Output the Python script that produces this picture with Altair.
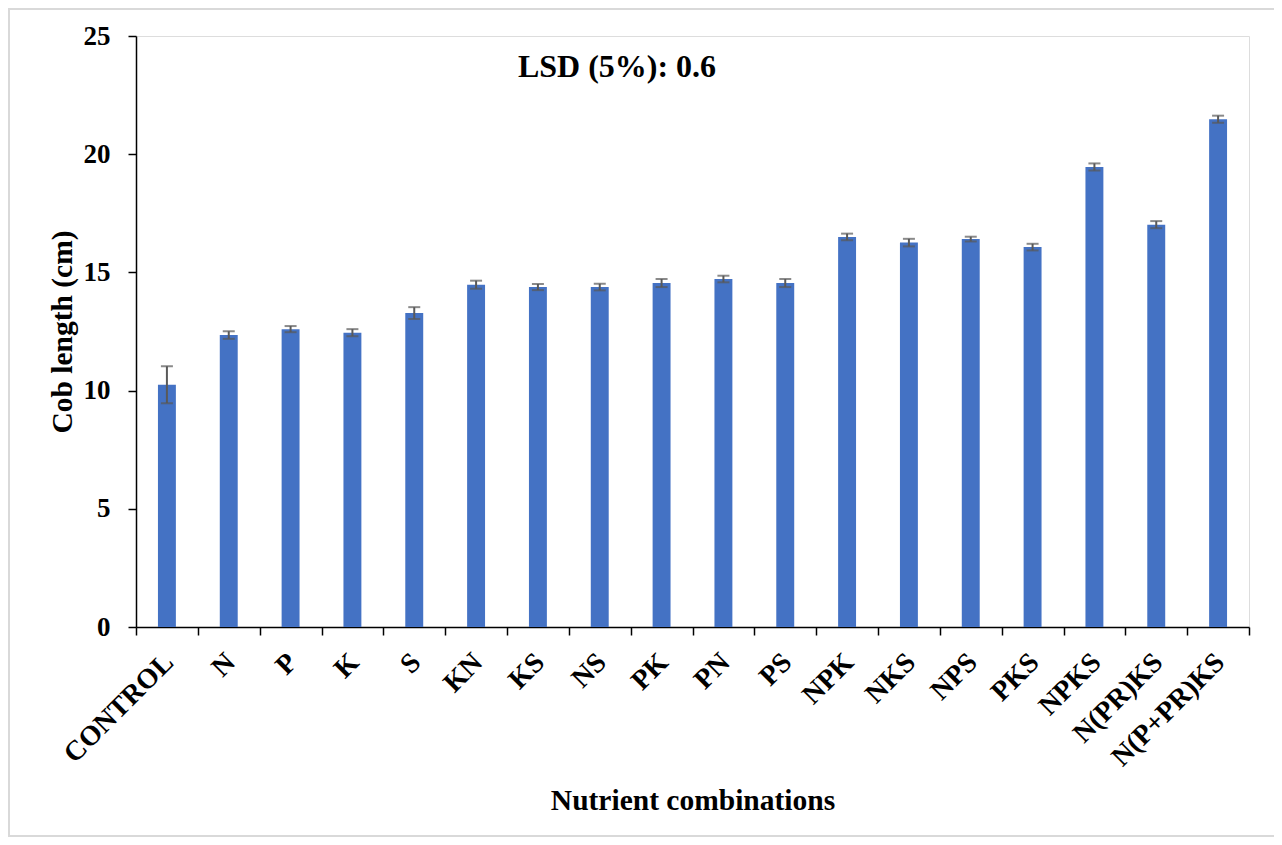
import altair as alt
import pandas as pd

categories = ["CONTROL", "N", "P", "K", "S", "KN", "KS", "NS", "PK", "PN", "PS",
              "NPK", "NKS", "NPS", "PKS", "NPKS", "N(PR)KS", "N(P+PR)KS"]
cob_length = [10.25, 12.35, 12.60, 12.45, 13.28, 14.48, 14.38, 14.38, 14.55, 14.72,
              14.55, 16.50, 16.26, 16.41, 16.07, 19.46, 17.02, 21.48]
error = [0.78, 0.16, 0.13, 0.15, 0.25, 0.17, 0.13, 0.14, 0.17, 0.14,
         0.17, 0.14, 0.16, 0.10, 0.14, 0.15, 0.15, 0.15]
annotation = ["LSD (5%): 0.6"]

df = pd.DataFrame({"cat": categories, "mean": cob_length, "err": error})
df["lo"] = df["mean"] - df["err"]
df["hi"] = df["mean"] + df["err"]

FONT = "Liberation Serif"

x_enc = alt.X("cat:N", sort=categories,
              scale=alt.Scale(paddingInner=0, paddingOuter=0),
              axis=alt.Axis(title="Nutrient combinations", labelAngle=-45,
                            labelFontSize=28, labelFont=FONT, labelFontWeight="bold",
                            labelColor="black", labelPadding=13, labelOffset=-8,
                            titleFontSize=29.5, titleFont=FONT, titleFontWeight="bold",
                            titleColor="black", titlePadding=15,
                            tickBand="extent", tickSize=8, tickColor="black",
                            tickWidth=1.5, domainColor="black", domainWidth=1.5))

y_scale = alt.Scale(domain=[0, 25], nice=False)

bars = alt.Chart(df).mark_bar(color="#4472C4", width=alt.RelativeBandSize(0.29)).encode(
    x=x_enc,
    y=alt.Y("mean:Q", scale=y_scale,
            axis=alt.Axis(title="Cob length (cm)", values=[0, 5, 10, 15, 20, 25],
                          grid=False, labelFontSize=27, labelFont=FONT,
                          labelFontWeight="bold", labelColor="black", labelPadding=18,
                          titleFontSize=29.5, titleFont=FONT, titleFontWeight="bold",
                          titleColor="black", titlePadding=6,
                          tickSize=8, tickColor="black", tickWidth=1.5,
                          domainColor="black", domainWidth=1.5)),
)

rules = alt.Chart(df).mark_rule(color="#595959", strokeWidth=2).encode(
    x=alt.X("cat:N", sort=categories),
    y=alt.Y("lo:Q", scale=y_scale),
    y2="hi:Q",
)

cap_hi = alt.Chart(df).mark_tick(color="#595959", thickness=2, size=12,
                                 orient="horizontal").encode(
    x=alt.X("cat:N", sort=categories),
    y=alt.Y("hi:Q", scale=y_scale),
)
cap_lo = alt.Chart(df).mark_tick(color="#595959", thickness=2, size=12,
                                 orient="horizontal").encode(
    x=alt.X("cat:N", sort=categories),
    y=alt.Y("lo:Q", scale=y_scale),
)

lsd = alt.Chart(pd.DataFrame({"t": annotation})).mark_text(
    font=FONT, fontSize=32, fontWeight="bold", color="black",
    align="center", baseline="alphabetic"
).encode(text="t:N", x=alt.value(481), y=alt.value(41))

border = alt.Chart(pd.DataFrame({"t": annotation})).mark_rect(
    fill=None, stroke="#d9d9d9", strokeWidth=2
).encode(x=alt.value(-127), x2=alt.value(1139), y=alt.value(-27), y2=alt.value(800))

chart = alt.layer(border, bars, rules, cap_hi, cap_lo, lsd).properties(
    width=1113, height=591,
    autosize=alt.AutoSizeParams(type="none"),
    padding={"left": 128, "top": 28, "right": 25, "bottom": 210},
    background="white",
).configure_view(stroke=None).configure(font=FONT)

chart.save("out.html", embed_options={"renderer": "svg", "actions": False})
